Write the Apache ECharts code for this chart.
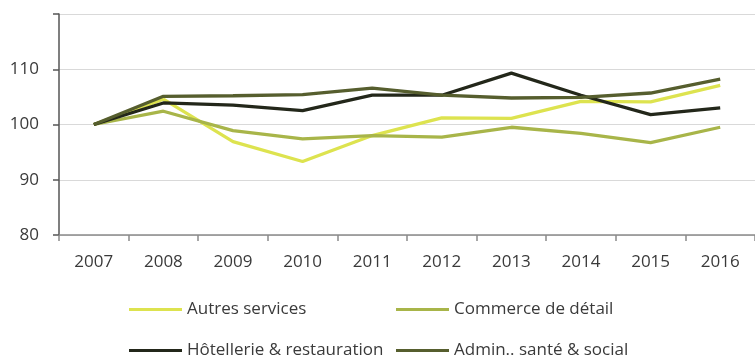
<!DOCTYPE html>
<html><head><meta charset="utf-8">
<script src="https://cdn.jsdelivr.net/npm/echarts@6/dist/echarts.min.js"></script>
<style>html,body{margin:0;padding:0;background:#fff}#c{width:755px;height:355px}</style>
</head><body><div id="c"></div>
<script>
var years = ['2007','2008','2009','2010','2011','2012','2013','2014','2015','2016'];
var autres = [100, 104.6, 96.9, 93.3, 98.0, 101.2, 101.1, 104.2, 104.1, 107.1];
var commerce = [100, 102.4, 98.9, 97.4, 98.0, 97.7, 99.5, 98.4, 96.7, 99.5];
var hotel = [100, 103.9, 103.5, 102.5, 105.3, 105.3, 109.3, 105.3, 101.8, 103.0];
var admin = [100, 105.1, 105.2, 105.4, 106.6, 105.3, 104.8, 104.9, 105.7, 108.2];
var names = ['Autres services', 'Commerce de détail', 'Hôtellerie & restauration', 'Admin.. santé & social'];
var colors = ['#dde34f', '#a8b549', '#23271a', '#565e2e'];
var FONT = 'Open Sans';
var chart = echarts.init(document.getElementById('c'));
function leg(name, left, top) {
  return {data: [name], left: left, top: top, icon: 'rect', itemWidth: 53, itemHeight: 3, itemGap: 0,
    textStyle: {fontFamily: FONT, fontSize: 17, color: '#3a3a3a'}, padding: 0};
}
var seriesData = [autres, commerce, hotel, admin];
chart.setOption({
  animation: false,
  textStyle: {fontFamily: FONT},
  grid: {left: 59, right: -2, top: 14, bottom: 120},
  legend: [leg(names[0], 129, 301), leg(names[1], 396, 301), leg(names[2], 129, 342), leg(names[3], 396, 342)],
  xAxis: {type: 'category', data: years, boundaryGap: true,
    axisLine: {lineStyle: {color: '#8a8a8a', width: 1.5}},
    axisTick: {show: true, length: 6, lineStyle: {color: '#8a8a8a', width: 1.5}},
    axisLabel: {fontFamily: FONT, fontSize: 17, color: '#3a3a3a', margin: 19}},
  yAxis: {type: 'value', min: 80, max: 120, interval: 10,
    axisLine: {show: true, lineStyle: {color: '#555', width: 1.5}},
    axisTick: {show: true, length: 6, lineStyle: {color: '#555', width: 1.5}},
    splitLine: {lineStyle: {color: '#d9d9d9', width: 1.2}},
    axisLabel: {fontFamily: FONT, fontSize: 17, color: '#3a3a3a', margin: 20,
      formatter: function (v) { return v === 120 ? '' : v; }}},
  series: seriesData.map(function (d, i) {
    return {name: names[i], type: 'line', data: d, symbol: 'none', color: colors[i],
      lineStyle: {width: 3.3, color: colors[i]}, z: 2 + i};
  })
});
</script></body></html>
